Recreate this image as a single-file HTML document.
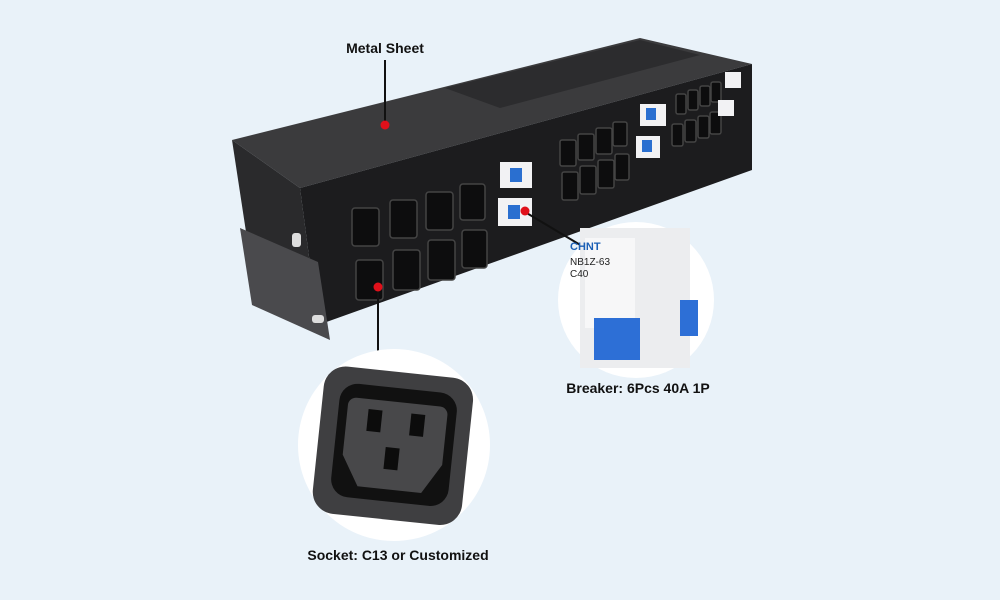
<!DOCTYPE html>
<html><head><meta charset="utf-8"><style>
html,body{margin:0;padding:0;background:#e9f2f9;}
svg{display:block}
text{font-family:"Liberation Sans",Arial,sans-serif;}
</style></head><body>
<svg width="1000" height="600" viewBox="0 0 1000 600" xmlns="http://www.w3.org/2000/svg">
<rect width="1000" height="600" fill="#e9f2f9"/>
<!-- box -->
<polygon points="232,140 640,38 752,64 300,188" fill="#3b3b3d"/>
<polygon points="445,88 640,40 700,55 500,108" fill="#2c2c2e"/>
<polygon points="232,140 300,188 318,325 248,245" fill="#2a2a2c"/>
<polygon points="300,188 752,64 752,170 318,325" fill="#1c1c1e"/>
<!-- ears -->
<polygon points="240,228 318,262 330,340 252,305" fill="#4a4a4d"/>
<rect x="292" y="233" width="9" height="14" fill="#ddd" rx="3"/>
<rect x="312" y="315" width="12" height="8" fill="#ddd" rx="3"/>
<!-- sockets -->
<g fill="#0d0d0e" stroke="#444" stroke-width="1.5">
<rect x="352" y="208" width="27" height="38" rx="3"/><rect x="390" y="200" width="27" height="38" rx="3"/>
<rect x="426" y="192" width="27" height="38" rx="3"/><rect x="460" y="184" width="25" height="36" rx="3"/>
<rect x="356" y="260" width="27" height="40" rx="3"/><rect x="393" y="250" width="27" height="40" rx="3"/>
<rect x="428" y="240" width="27" height="40" rx="3"/><rect x="462" y="230" width="25" height="38" rx="3"/>
<rect x="560" y="140" width="16" height="26" rx="2"/><rect x="578" y="134" width="16" height="26" rx="2"/><rect x="596" y="128" width="16" height="26" rx="2"/><rect x="613" y="122" width="14" height="24" rx="2"/>
<rect x="562" y="172" width="16" height="28" rx="2"/><rect x="580" y="166" width="16" height="28" rx="2"/><rect x="598" y="160" width="16" height="28" rx="2"/><rect x="615" y="154" width="14" height="26" rx="2"/>
<rect x="676" y="94" width="10" height="20" rx="2"/><rect x="688" y="90" width="10" height="20" rx="2"/><rect x="700" y="86" width="10" height="20" rx="2"/><rect x="711" y="82" width="10" height="20" rx="2"/>
<rect x="672" y="124" width="11" height="22" rx="2"/><rect x="685" y="120" width="11" height="22" rx="2"/><rect x="698" y="116" width="11" height="22" rx="2"/><rect x="710" y="112" width="11" height="22" rx="2"/>
</g>
<!-- breakers -->
<g fill="#f2f2f4"><rect x="500" y="162" width="32" height="26"/><rect x="498" y="198" width="34" height="28"/>
<rect x="640" y="104" width="26" height="22"/><rect x="636" y="136" width="24" height="22"/>
<rect x="725" y="72" width="16" height="16"/><rect x="718" y="100" width="16" height="16"/></g>
<g fill="#2a6fd0"><rect x="510" y="168" width="12" height="14"/><rect x="508" y="205" width="12" height="14"/><rect x="646" y="108" width="10" height="12"/><rect x="642" y="140" width="10" height="12"/></g>
<!-- callout lines -->
<g stroke="#111" stroke-width="2"><line x1="385" y1="125" x2="385" y2="60"/><line x1="378" y1="287" x2="378" y2="352"/><line x1="525" y1="212" x2="582" y2="246"/></g>
<g fill="#e0101a"><circle cx="385" cy="125" r="4.5"/><circle cx="378" cy="287" r="4.5"/><circle cx="525" cy="211" r="4.5"/></g>
<!-- socket closeup -->
<circle cx="394" cy="445" r="96" fill="#ffffff"/>
<g transform="rotate(6 395 445)">
<rect x="318" y="372" width="150" height="148" rx="22" fill="#3f3f41"/>
<rect x="335" y="388" width="118" height="114" rx="18" fill="#111"/>
<path d="M352 402 h84 a8 8 0 0 1 8 8 v50 l-18 30 h-64 l-18 -30 v-50 a8 8 0 0 1 8 -8z" fill="#48484a"/>
<g fill="#0c0c0c"><rect x="365" y="412" width="14" height="22"/><rect x="408" y="412" width="14" height="22"/><rect x="386" y="448" width="14" height="22"/></g>
</g>
<!-- breaker closeup -->
<circle cx="636" cy="300" r="78" fill="#ffffff"/>
<rect x="580" y="228" width="110" height="140" fill="#ecedef"/>
<rect x="585" y="238" width="50" height="90" fill="#f7f7f8"/>
<text x="570" y="250" font-size="11" font-weight="bold" fill="#1b5fb5">CHNT</text>
<text x="570" y="265" font-size="10" fill="#222">NB1Z-63</text>
<text x="570" y="277" font-size="10" fill="#222">C40</text>
<rect x="594" y="318" width="46" height="42" fill="#2d6fd6"/>
<rect x="680" y="300" width="18" height="36" fill="#2d6fd6"/>
<!-- labels -->
<text x="385" y="53" font-size="14" font-weight="bold" text-anchor="middle" fill="#111">Metal Sheet</text>
<text x="638" y="393" font-size="14" font-weight="bold" text-anchor="middle" fill="#111">Breaker: 6Pcs 40A 1P</text>
<text x="398" y="560" font-size="14" font-weight="bold" text-anchor="middle" fill="#111">Socket: C13 or Customized</text>
</svg>
</body></html>
